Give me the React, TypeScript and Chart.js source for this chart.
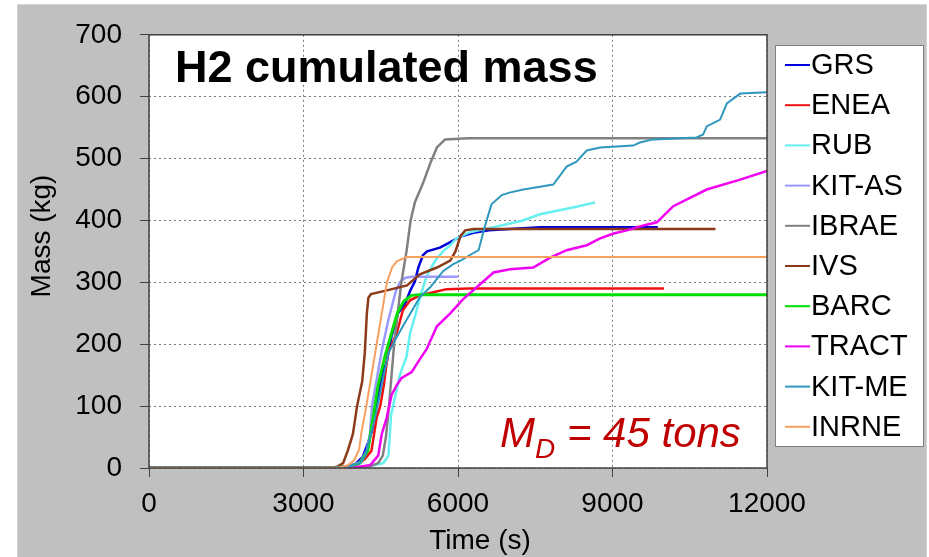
import React, { useEffect, useRef } from "react";
import { Chart, registerables } from "chart.js";
Chart.register(...registerables);

const FONT = "'Liberation Sans', Arial, sans-serif";

const SERIES_NAMES = ["GRS", "ENEA", "RUB", "KIT-AS", "IBRAE", "IVS", "BARC", "TRACT", "KIT-ME", "INRNE"];
const SERIES_COLORS = ["#0000dd", "#ee1111", "#66f0f0", "#9999ff", "#808080", "#8b3a1a", "#00e000", "#f000f0", "#2f98bd", "#f8a060"];
const SERIES_WIDTHS = [2.5, 2.5, 2.5, 2.5, 2.5, 2.5, 3, 2.5, 2, 2];

const X_TICKS = [0, 3000, 6000, 9000, 12000];
const Y_TICKS = [0, 100, 200, 300, 400, 500, 600, 700];

// [time (s), mass (kg)]
const GRS = [[0,0],[3500,0],[3800,2],[4000,6],[4150,18],[4250,40],[4330,60],[4410,100],[4520,150],[4615,171],[4710,213],[4835,250],[4970,265],[5070,286],[5165,302],[5230,324],[5320,344],[5400,350],[5650,356],[5850,365],[6050,374],[6300,380],[6600,384],[7000,386],[7600,389],[9880,389]];
const ENEA = [[0,0],[3500,0],[3850,2],[4050,6],[4200,15],[4320,28],[4420,81],[4490,100],[4560,134],[4640,186],[4720,200],[4810,218],[4930,255],[5070,271],[5260,279],[5520,284],[5780,289],[6200,290],[10000,290]];
const RUB = [[0,0],[3500,0],[4000,1],[4300,3],[4550,8],[4650,20],[4700,85],[4870,150],[5000,180],[5070,218],[5165,245],[5260,275],[5390,310],[5550,334],[5650,344],[5710,350],[5850,360],[5970,371],[6230,381],[6620,388],[7010,395],[7260,400],[7590,410],[8230,421],[8660,429]];
const KIT_AS = [[0,0],[3500,0],[3900,3],[4100,10],[4230,28],[4290,55],[4330,100],[4520,190],[4650,240],[4790,285],[4870,300],[4970,307],[5100,309],[6000,309]];
const IBRAE = [[0,0],[3500,0],[4000,1],[4300,3],[4450,8],[4540,20],[4600,50],[4660,100],[4760,200],[4900,300],[5000,350],[5080,400],[5165,430],[5320,460],[5460,492],[5590,518],[5750,531],[6200,533],[12000,533]];
const IVS = [[0,0],[3500,0],[3650,2],[3770,8],[3860,28],[3960,55],[4040,100],[4140,140],[4190,186],[4230,250],[4260,275],[4310,281],[4620,287],[5010,295],[5260,313],[5590,324],[5850,335],[5950,350],[6050,375],[6140,384],[6300,386],[11000,386]];
const BARC = [[0,0],[3500,0],[3900,2],[4100,8],[4250,28],[4350,81],[4450,134],[4580,180],[4700,215],[4820,250],[4950,270],[5100,279],[5250,280],[12000,280]];
const TRACT = [[0,0],[3500,0],[4000,1],[4300,5],[4450,20],[4520,55],[4615,81],[4710,118],[4810,134],[4900,145],[5100,155],[5260,176],[5390,192],[5590,229],[5850,250],[6100,273],[6430,297],[6690,316],[7010,321],[7460,324],[7790,340],[8110,352],[8500,360],[8760,371],[9020,379],[9280,384],[9600,392],[9860,397],[10180,423],[10830,450],[11480,466],[12000,480]];
const KIT_ME = [[0,0],[3500,0],[3900,3],[4100,8],[4200,20],[4390,81],[4520,134],[4650,186],[4800,210],[5000,239],[5260,276],[5460,292],[5710,318],[5900,329],[6050,335],[6250,345],[6400,352],[6520,390],[6650,426],[6850,441],[7000,445],[7270,450],[7850,458],[8110,487],[8300,495],[8500,513],[8760,518],[9400,521],[9530,526],[9790,531],[10630,534],[10760,539],[10830,552],[11090,563],[11220,589],[11480,605],[12000,607]];
const INRNE = [[0,0],[3400,0],[3700,1],[3850,4],[3980,12],[4080,30],[4130,60],[4220,100],[4420,200],[4620,300],[4720,324],[4810,334],[5000,341],[12000,341]];

const SERIES_DATA = [GRS, ENEA, RUB, KIT_AS, IBRAE, IVS, BARC, TRACT, KIT_ME, INRNE];

const decoPlugin = {
  id: "deco",
  beforeDraw(chart: any) {
    const { ctx, chartArea: a, width, height } = chart;
    ctx.save();
    ctx.fillStyle = "#ffffff";
    ctx.fillRect(0, 0, width, height);
    ctx.fillStyle = "#c0c0c0";
    ctx.fillRect(17, 4, 910, height - 4);
    ctx.strokeStyle = "#d4d4d4";
    ctx.lineWidth = 1;
    ctx.strokeRect(17.5, 4.5, 909, height);
    ctx.fillStyle = "#ffffff";
    ctx.fillRect(a.left, a.top, a.right - a.left, a.bottom - a.top);
    ctx.restore();
  },
  afterDraw(chart: any) {
    const { ctx, chartArea: a } = chart;
    ctx.save();
    // plot frame
    ctx.strokeStyle = "#404040";
    ctx.lineWidth = 1.5;
    ctx.strokeRect(a.left, a.top, a.right - a.left, a.bottom - a.top);

    // title inside plot
    ctx.fillStyle = "#000";
    ctx.font = `bold 45px ${FONT}`;
    ctx.textBaseline = "alphabetic";
    ctx.textAlign = "left";
    ctx.fillText("H2 cumulated mass", 175, 82);

    // M_D annotation
    ctx.fillStyle = "#c00000";
    ctx.font = `italic 42px ${FONT}`;
    let x = 500;
    ctx.fillText("M", x, 447);
    x += ctx.measureText("M").width;
    ctx.font = `italic 28px ${FONT}`;
    ctx.fillText("D", x, 458);
    x += ctx.measureText("D").width;
    ctx.font = `italic 42px ${FONT}`;
    ctx.fillText(" = 45 tons", x, 447);

    // axis titles
    ctx.fillStyle = "#000";
    ctx.font = `28px ${FONT}`;
    ctx.textAlign = "center";
    ctx.textBaseline = "middle";
    ctx.fillText("Time (s)", 480, 541);
    ctx.save();
    ctx.translate(42, 236);
    ctx.rotate(-Math.PI / 2);
    ctx.fillText("Mass (kg)", 0, 0);
    ctx.restore();

    // legend
    const lx = 775, ly = 45, lw = 148, lh = 401;
    ctx.fillStyle = "#fff";
    ctx.fillRect(lx, ly, lw, lh);
    ctx.strokeStyle = "#808080";
    ctx.lineWidth = 1;
    ctx.strokeRect(lx + 0.5, ly + 0.5, lw, lh);
    ctx.font = `29px ${FONT}`;
    ctx.textAlign = "left";
    ctx.textBaseline = "middle";
    chart.data.datasets.forEach((ds: any, i: number) => {
      const cy = 65 + i * 40.2;
      ctx.strokeStyle = ds.borderColor;
      ctx.lineWidth = 2;
      ctx.beginPath();
      ctx.moveTo(785, cy);
      ctx.lineTo(810, cy);
      ctx.stroke();
      ctx.fillStyle = "#000";
      ctx.fillText(ds.label, 811, cy + 1);
    });
    ctx.restore();
  },
};

export default function App() {
  const ref = useRef<HTMLCanvasElement>(null);
  useEffect(() => {
    document.body.style.margin = "0";
    const datasets = SERIES_NAMES.map((name, i) => ({
      label: name,
      data: SERIES_DATA[i].map(([t, m]) => ({ x: t, y: m })),
      borderColor: SERIES_COLORS[i],
      backgroundColor: SERIES_COLORS[i],
      borderWidth: SERIES_WIDTHS[i],
      pointRadius: 0,
      tension: 0,
      fill: false,
      order: SERIES_NAMES.length - i,
    }));
    const chart = new Chart(ref.current as HTMLCanvasElement, {
      type: "line",
      data: { datasets },
      options: {
        animation: false,
        responsive: false,
        devicePixelRatio: 1,
        layout: { padding: { left: 17, right: 162, top: 26, bottom: 0 } },
        plugins: { legend: { display: false }, tooltip: { enabled: false } },
        scales: {
          x: {
            type: "linear",
            min: 0,
            max: 12000,
            afterBuildTicks: (s: any) => { s.ticks = X_TICKS.map((v) => ({ value: v })); },
            afterFit: (s: any) => { s.height = 89; },
            ticks: { color: "#000", font: { family: FONT, size: 28 }, padding: 10, maxRotation: 0, callback: (v: any) => String(v) },
            grid: { color: "#7a7a7a", lineWidth: 1, tickLength: 9, tickColor: "#404040", tickBorderDash: [] },
            border: { display: false, dash: [2, 3] },
          },
          y: {
            type: "linear",
            min: 0,
            max: 700,
            afterBuildTicks: (s: any) => { s.ticks = Y_TICKS.map((v) => ({ value: v })); },
            afterFit: (s: any) => { s.width = 132; },
            ticks: { color: "#000", font: { family: FONT, size: 28 }, padding: 18, callback: (v: any) => String(v) },
            grid: { color: "#7a7a7a", lineWidth: 1, tickLength: 9, tickColor: "#404040", tickBorderDash: [] },
            border: { display: false, dash: [2, 3] },
          },
        },
      },
      plugins: [decoPlugin],
    } as any);
    return () => chart.destroy();
  }, []);
  return <canvas ref={ref} width={929} height={557} style={{ display: "block", width: 929, height: 557 }} />;
}
